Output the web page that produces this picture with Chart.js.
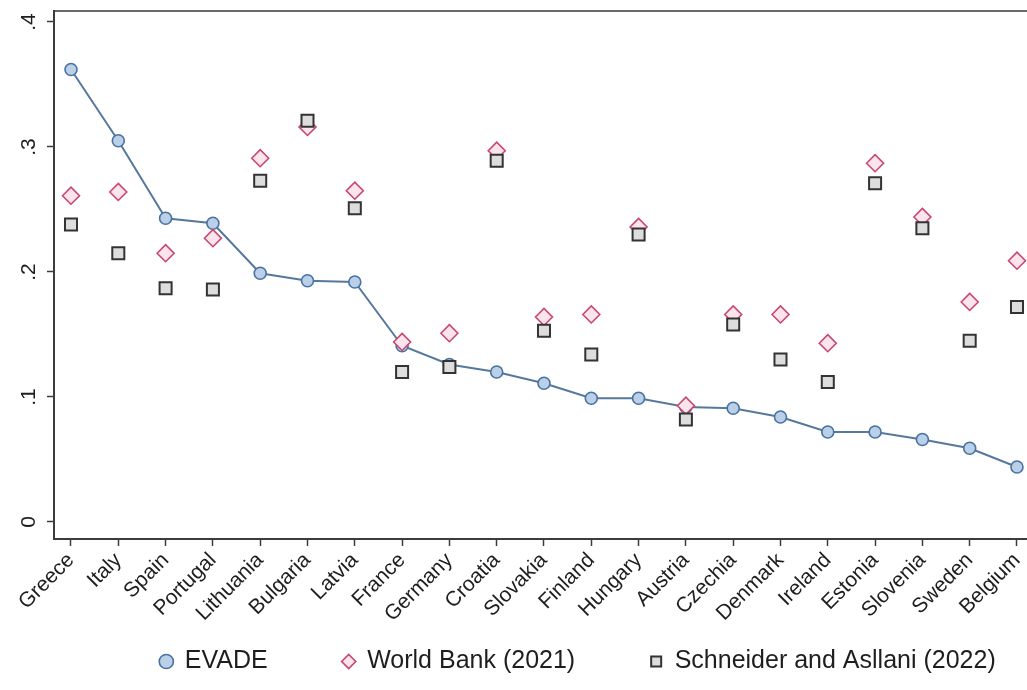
<!DOCTYPE html>
<html>
<head>
<meta charset="utf-8">
<script src="https://cdn.jsdelivr.net/npm/chart.js@4.4.1/dist/chart.umd.min.js"></script>
<style>
  html, body { margin: 0; padding: 0; background: #ffffff; }
  #wrap { width: 1027px; height: 690px; overflow: hidden; }
</style>
</head>
<body>
<div id="wrap"><canvas id="c" width="1027" height="690"></canvas></div>
<script>
// Informal economy size estimates by country
const countries = ['Greece', 'Italy', 'Spain', 'Portugal', 'Lithuania', 'Bulgaria', 'Latvia', 'France', 'Germany', 'Croatia', 'Slovakia', 'Finland', 'Hungary', 'Austria', 'Czechia', 'Denmark', 'Ireland', 'Estonia', 'Slovenia', 'Sweden', 'Belgium'];
const evade = [0.362, 0.305, 0.243, 0.239, 0.199, 0.193, 0.192, 0.141, 0.126, 0.120, 0.111, 0.099, 0.099, 0.092, 0.091, 0.084, 0.072, 0.072, 0.066, 0.059, 0.044];
const worldBank = [0.261, 0.264, 0.215, 0.227, 0.291, 0.316, 0.265, 0.144, 0.151, 0.297, 0.164, 0.166, 0.236, 0.093, 0.166, 0.166, 0.143, 0.287, 0.244, 0.176, 0.209];
const schneider = [0.238, 0.215, 0.187, 0.186, 0.273, 0.321, 0.251, 0.120, 0.124, 0.289, 0.153, 0.134, 0.230, 0.082, 0.158, 0.130, 0.112, 0.271, 0.235, 0.145, 0.172];
const yTicks = [0, 0.1, 0.2, 0.3, 0.4];
const yTickLabels = ['0', '.1', '.2', '.3', '.4'];
const seriesNames = ['EVADE', 'World Bank (2021)', 'Schneider and Asllani (2022)'];

const toPoints = arr => arr.map((v, i) => ({ x: i, y: v }));
const TICK_FONT = { family: "'Liberation Sans', Arial, sans-serif", size: 21 };
const LEGEND_FONT = { family: "'Liberation Sans', Arial, sans-serif", size: 25 };
const AXIS = '#3c3c3c';

// The legend row is centred on the full graph width, which runs past the canvas edge.
const LEGEND_OVERHANG = 129;

const zeroScalePadding = s => {
  s.paddingLeft = 0;
  s.paddingTop = 0;
  s.paddingBottom = 0;
  s.paddingRight = 0;
};

// Let the rotated country names use the space below the axis box without being clipped.
const tickLabelRoom = {
  id: 'tickLabelRoom',
  afterLayout(chart) {
    const x = chart.scales.x;
    if (x) x.bottom = chart.height;
  }
};

new Chart(document.getElementById('c'), {
  type: 'scatter',
  plugins: [tickLabelRoom],
  data: {
    datasets: [
      {
        label: seriesNames[0],
        data: toPoints(evade),
        showLine: true,
        borderColor: '#56789c',
        borderWidth: 2,
        pointStyle: 'circle',
        pointRadius: 6,
        pointBorderWidth: 1.6,
        pointBackgroundColor: '#b9d0e8',
        pointBorderColor: '#4a72a0',
        backgroundColor: '#b9d0e8',
        order: 2
      },
      {
        label: seriesNames[1],
        data: toPoints(worldBank),
        showLine: false,
        pointStyle: 'rectRot',
        pointRadius: 8.5,
        pointBorderWidth: 1.6,
        pointBackgroundColor: '#fbe4ec',
        pointBorderColor: '#c9466f',
        backgroundColor: '#fbe4ec',
        borderColor: '#c9466f',
        order: 1
      },
      {
        label: seriesNames[2],
        data: toPoints(schneider),
        showLine: false,
        pointStyle: 'rect',
        pointRadius: 8.5,
        pointBorderWidth: 2,
        pointBackgroundColor: '#dddddd',
        pointBorderColor: '#333333',
        backgroundColor: '#dddddd',
        borderColor: '#333333',
        order: 0
      }
    ]
  },
  options: {
    responsive: false,
    animation: false,
    layout: { autoPadding: false, padding: { top: 11, left: 0, right: -LEGEND_OVERHANG, bottom: 6 } },
    plugins: {
      tooltip: { enabled: false },
      legend: {
        position: 'bottom',
        align: 'center',
        labels: {
          usePointStyle: true,
          boxWidth: 12,
          boxHeight: 10,
          padding: 75,
          color: '#1e1e1e',
          font: LEGEND_FONT,
          sort: (a, b) => a.datasetIndex - b.datasetIndex
        }
      }
    },
    scales: {
      x: {
        type: 'linear',
        position: 'bottom',
        min: -0.3594,
        max: 20.2117,
        afterBuildTicks: s => { s.ticks = countries.map((_, i) => ({ value: i })); },
        afterFit: s => { s.height = 35; zeroScalePadding(s); },
        ticks: {
          autoSkip: false,
          minRotation: 45,
          maxRotation: 45,
          padding: 2,
          color: '#1e1e1e',
          font: TICK_FONT,
          callback: v => countries[v]
        },
        grid: { drawOnChartArea: false, drawTicks: true, tickLength: 7, tickColor: AXIS, tickWidth: 1.5 },
        border: { display: true, color: AXIS, width: 2 }
      },
      xTop: {
        type: 'linear',
        position: 'top',
        min: 0,
        max: 1,
        afterFit: s => { s.height = 0; zeroScalePadding(s); },
        ticks: { display: false },
        grid: { display: false, drawTicks: false },
        border: { display: true, color: '#6a6a6a', width: 2 }
      },
      y: {
        type: 'linear',
        min: -0.01363,
        max: 0.4088,
        afterBuildTicks: s => { s.ticks = yTicks.map(v => ({ value: v })); },
        afterFit: s => { s.width = 54; zeroScalePadding(s); },
        ticks: {
          autoSkip: false,
          minRotation: 90,
          maxRotation: 90,
          crossAlign: 'center',
          padding: 9,
          color: '#1e1e1e',
          font: TICK_FONT,
          callback: (v, i) => yTickLabels[i]
        },
        grid: { drawOnChartArea: false, drawTicks: true, tickLength: 7, tickColor: AXIS, tickWidth: 1.5 },
        border: { display: true, color: AXIS, width: 2 }
      }
    }
  }
});
</script>
</body>
</html>
